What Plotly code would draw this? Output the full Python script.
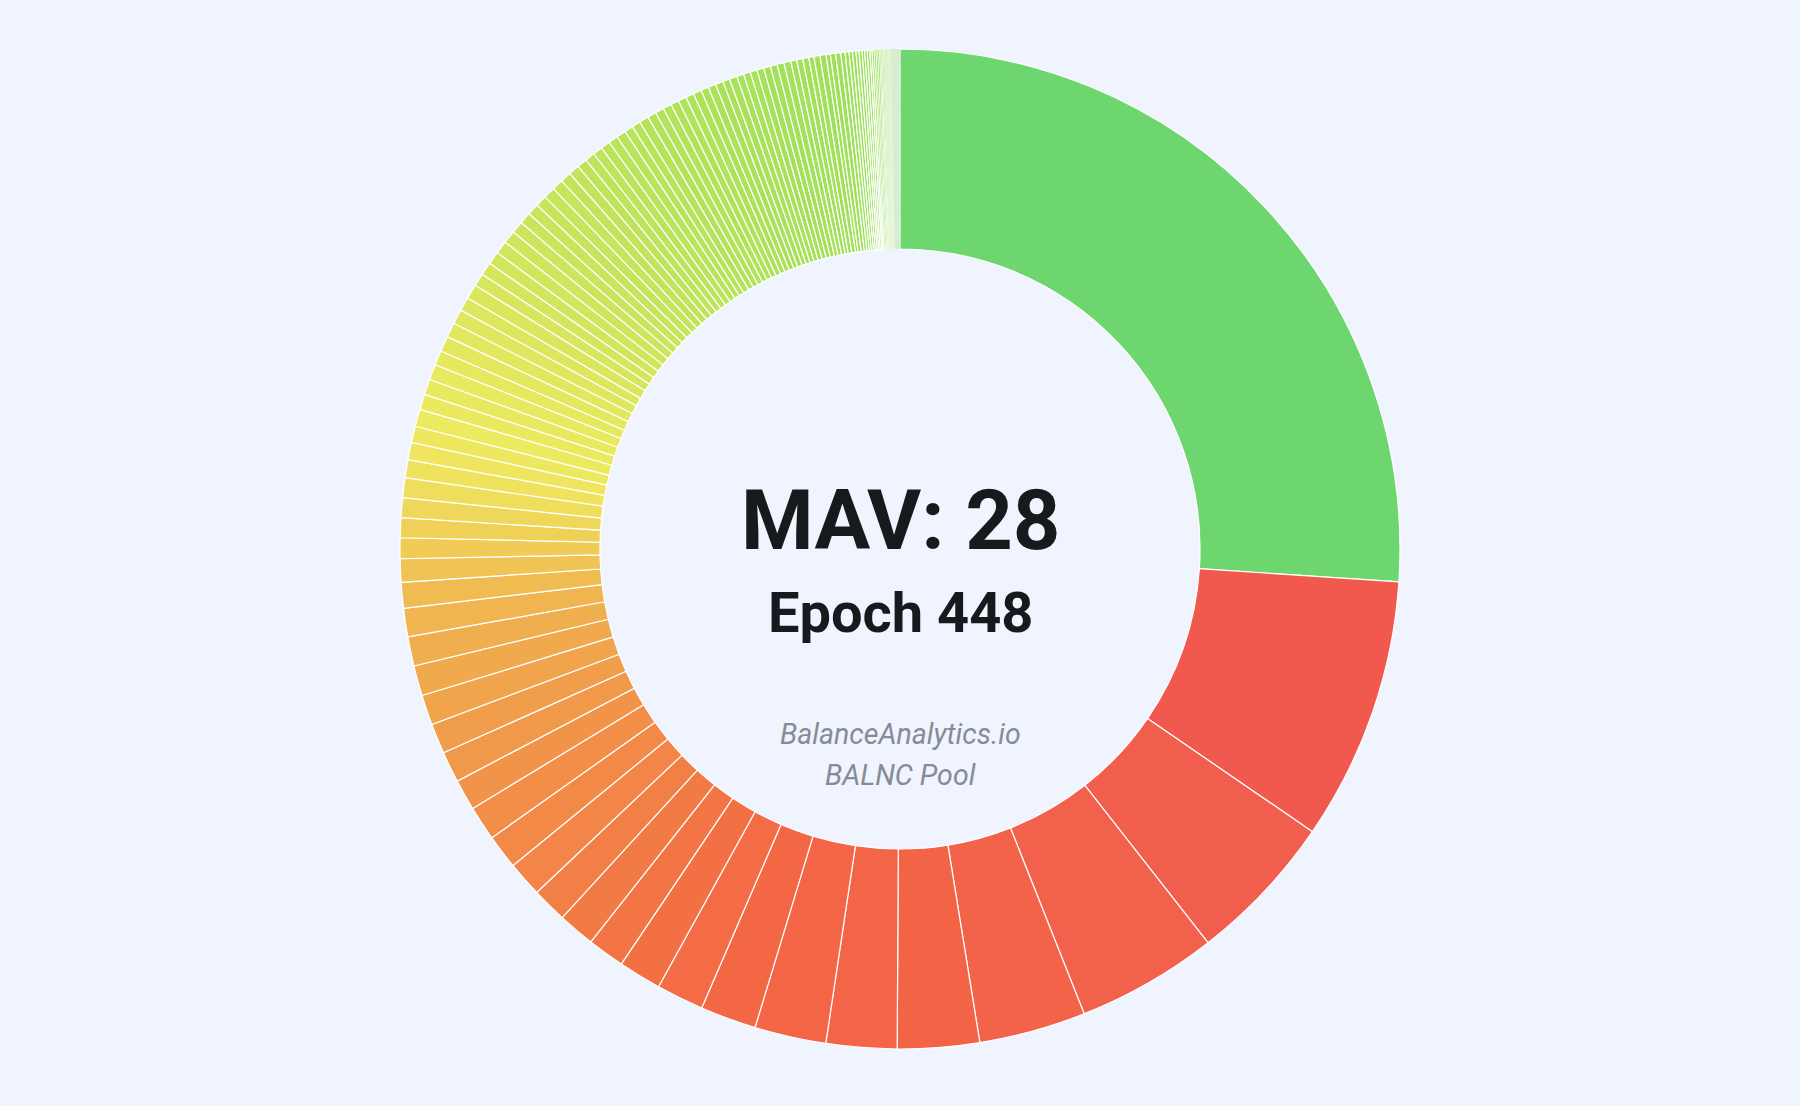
import plotly.graph_objects as go

# slice sizes (share of the ring, in degrees)
top_share = [93.6]
red_block = [30.6, 17.5, 16.4, 12.4, 9.5, 8.2, 8.3, 6.5, 5.5, 5.0]
orange_block = [4.3, 4.3, 4.1, 4.1, 4.0, 4.0, 3.6, 3.6, 3.5, 3.5, 3.5, 3.4, 3.3, 3.0, 2.7]
yellow_block = [2.4, 2.3, 2.3, 2.3, 2.1, 2.0, 1.9, 2.0, 1.8, 1.8, 1.8, 1.7, 1.8, 1.7,
                1.7, 1.6, 1.7, 1.5, 1.5, 1.5, 1.5, 1.5, 1.4, 1.35, 1.35, 1.3]
green_block = [1.35, 1.3, 1.25, 1.25, 1.15, 1.15, 1.1, 1.1, 1.1, 1.1, 1.0, 1.0, 1.1, 1.0,
               1.0, 1.0, 0.95, 0.95, 0.95, 0.95, 0.9, 0.9, 0.9, 0.8, 0.9, 0.8, 0.8, 0.8,
               0.8, 0.8, 0.8, 0.8, 0.8, 0.7, 0.7, 0.7, 0.6, 0.7, 0.7, 0.5, 0.6, 0.6]
tail_block = [0.5, 0.45, 0.4, 0.4, 0.35, 0.35, 0.3, 0.3, 0.3, 0.25, 0.25, 0.2, 0.2, 0.2,
              0.15, 0.15, 0.15, 0.1, 0.1, 0.1, 0.1, 0.1, 0.08, 0.08, 0.08, 0.08, 0.08,
              0.05, 0.05, 0.05, 0.05, 0.05, 0.05, 0.05, 0.05, 0.05, 0.05,
              0.03, 0.03, 0.03, 0.03, 0.03, 0.03, 0.03, 0.03, 0.03, 0.03,
              0.02, 0.02, 0.02, 0.02, 0.02, 0.02, 0.02, 0.02, 0.02, 0.02]

values = top_share + red_block + orange_block + yellow_block + green_block + tail_block

title_text = "MAV: 28"
subtitle_text = "Epoch 448"
credit_lines = ["BalanceAnalytics.io", "BALNC Pool"]

# colour ramp along the ring (angle in degrees -> colour)
ramp = [(93.6, "#F2564E"), (135, "#F25E4D"), (150, "#F2614B"), (175, "#F36447"),
        (200, "#F46745"), (212, "#F37045"), (222, "#F27D45"), (235, "#F28C48"),
        (249, "#F0A04B"), (262, "#F0B550"), (270, "#F0CB56"), (278, "#EFE05D"),
        (285, "#EEEA5F"), (295, "#E2E85E"), (310, "#CCE55C"), (325, "#BAE45B"),
        (340, "#A8E25A"), (360, "#98DF5A")]


def hex2rgb(h):
    h = h.lstrip("#")
    return tuple(int(h[i:i + 2], 16) for i in (0, 2, 4))


def ramp_rgb(a):
    if a <= ramp[0][0]:
        return hex2rgb(ramp[0][1])
    for (a0, c0), (a1, c1) in zip(ramp[:-1], ramp[1:]):
        if a0 <= a <= a1:
            t = (a - a0) / (a1 - a0)
            r0, g0, b0 = hex2rgb(c0)
            r1, g1, b1 = hex2rgb(c1)
            return (round(r0 + (r1 - r0) * t), round(g0 + (g1 - g0) * t),
                    round(b0 + (b1 - b0) * t))
    return hex2rgb(ramp[-1][1])


total = sum(values)
colors = []
widths = []
acc = 0.0
for i, v in enumerate(values):
    mid = (acc + v / 2) / total * 360
    acc += v
    if i == 0:
        colors.append("#6ED66E")
        widths.append(1.2)
        continue
    r, g, b = ramp_rgb(mid)
    if v <= 0.05:
        colors.append("rgba(%d,%d,%d,0.28)" % (r, g, b))
        widths.append(0)
    elif v <= 0.1:
        colors.append("rgba(%d,%d,%d,0.55)" % (r, g, b))
        widths.append(0.3)
    elif v <= 0.2:
        colors.append("rgb(%d,%d,%d)" % (r, g, b))
        widths.append(0.7)
    else:
        colors.append("rgb(%d,%d,%d)" % (r, g, b))
        widths.append(1.2)

fig = go.Figure(go.Pie(
    values=values,
    hole=0.6,
    sort=False,
    direction="clockwise",
    rotation=0,
    textinfo="none",
    hoverinfo="none",
    showlegend=False,
    marker=dict(colors=colors, line=dict(color="#FFFFFF", width=widths)),
))

W, H = 1800, 1106
T, B = 49, 57
ph = H - T - B


def py(pix):
    return (H - B - pix) / ph


fig.add_annotation(text="<b>%s</b>" % title_text, x=0.5, y=py(520), xref="paper", yref="paper",
                   showarrow=False, xanchor="center", yanchor="middle",
                   font=dict(family="Roboto", size=83, color="#18191C"))
fig.add_annotation(text="<b>%s</b>" % subtitle_text, x=0.5, y=py(613), xref="paper", yref="paper",
                   showarrow=False, xanchor="center", yanchor="middle",
                   font=dict(family="Roboto", size=56, color="#18191C"))
fig.add_annotation(text="<i>%s</i>" % credit_lines[0], x=0.5, y=py(734), xref="paper", yref="paper",
                   showarrow=False, xanchor="center", yanchor="middle",
                   font=dict(family="Roboto", size=28.5, color="#868B96"))
fig.add_annotation(text="<i>%s</i>" % credit_lines[1], x=0.5, y=py(775), xref="paper", yref="paper",
                   showarrow=False, xanchor="center", yanchor="middle",
                   font=dict(family="Roboto", size=28.5, color="#868B96"))

fig.update_layout(
    width=W, height=H,
    margin=dict(l=0, r=0, t=T, b=B),
    paper_bgcolor="#EFF4FE",
    plot_bgcolor="#EFF4FE",
)

fig.write_html("out.html", config={"displayModeBar": False})
